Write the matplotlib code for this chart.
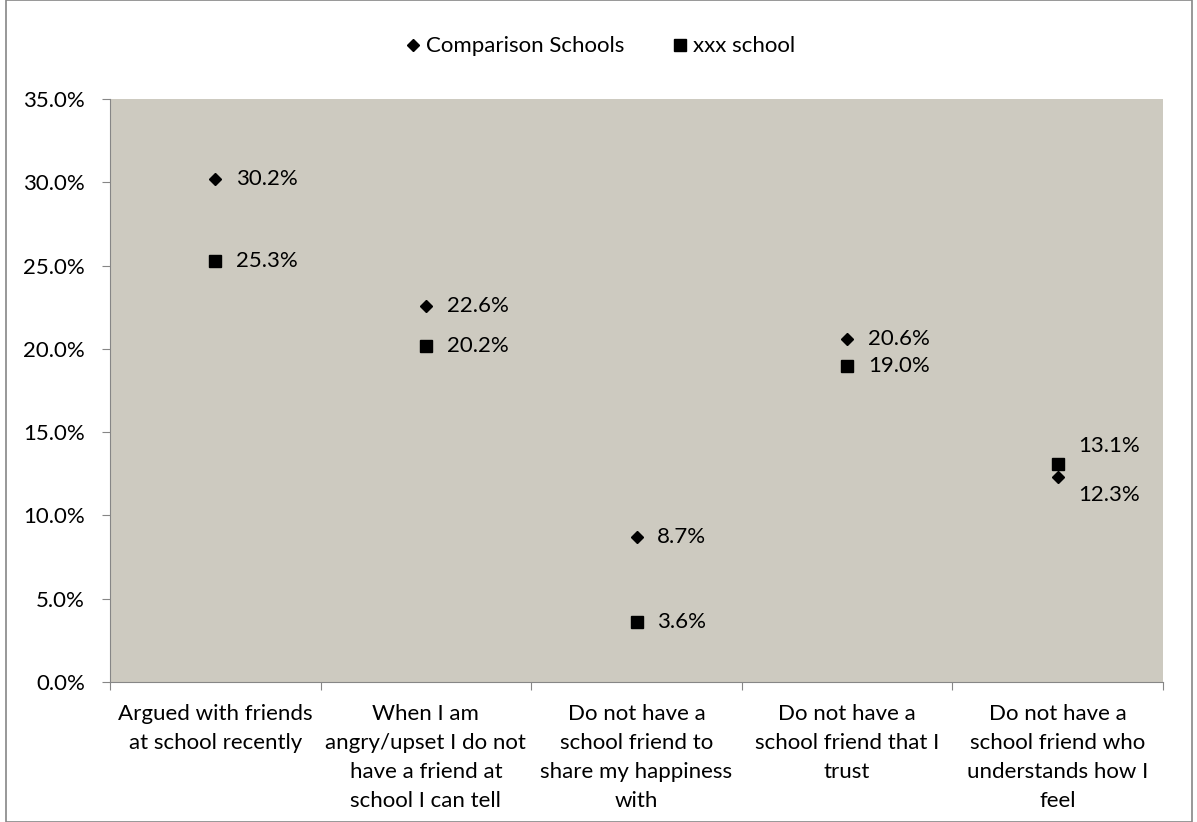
import matplotlib.pyplot as plt
from matplotlib.ticker import FuncFormatter, FixedLocator
from matplotlib.patches import Rectangle

plt.rcParams['font.family'] = ['Lato', 'DejaVu Sans']

categories = [
    "Argued with friends\nat school recently",
    "When I am\nangry/upset I do not\nhave a friend at\nschool I can tell",
    "Do not have a\nschool friend to\nshare my happiness\nwith",
    "Do not have a\nschool friend that I\ntrust",
    "Do not have a\nschool friend who\nunderstands how I\nfeel",
]
comparison = [30.2, 22.6, 8.7, 20.6, 12.3]
xxx_school = [25.3, 20.2, 3.6, 19.0, 13.1]

FS = 16

fig = plt.figure(figsize=(11.97, 8.22), dpi=100)
ax = fig.add_axes([110 / 1197, 1 - 682 / 822, 1053 / 1197, 583 / 822])
ax.set_facecolor('#CDCAC0')

x = list(range(len(categories)))
ax.plot(x, comparison, linestyle='none', marker='D', markersize=6, color='black',
        label='Comparison Schools')
ax.plot(x, xxx_school, linestyle='none', marker='s', markersize=9, color='black',
        label='xxx school')

# data labels
for i, (c, s) in enumerate(zip(comparison, xxx_school)):
    if i == len(categories) - 1:
        ax.annotate(f'{s:.1f}%', (i, s), xytext=(15, 13), textcoords='offset points',
                    va='center', fontsize=FS)
        ax.annotate(f'{c:.1f}%', (i, c), xytext=(15, -13), textcoords='offset points',
                    va='center', fontsize=FS)
    else:
        ax.annotate(f'{c:.1f}%', (i, c), xytext=(15, 0), textcoords='offset points',
                    va='center', fontsize=FS)
        ax.annotate(f'{s:.1f}%', (i, s), xytext=(15, 0), textcoords='offset points',
                    va='center', fontsize=FS)

ax.set_xlim(-0.5, len(categories) - 0.5)
ax.set_ylim(0, 35)
ax.set_yticks([0, 5, 10, 15, 20, 25, 30, 35])
ax.yaxis.set_major_formatter(FuncFormatter(lambda v, p: f'{v:.1f}%'))

# category boundaries as ticks, labels at centres
ax.xaxis.set_major_locator(FixedLocator([i - 0.5 for i in range(len(categories) + 1)]))
ax.set_xticklabels([])
ax.set_xticks(x, minor=True)
ax.set_xticklabels(categories, minor=True, fontsize=FS, linespacing=1.55)
ax.tick_params(axis='x', which='minor', length=0, pad=16)
ax.tick_params(axis='x', which='major', length=6, color='#868686')
ax.tick_params(axis='y', length=6, color='#868686', labelsize=FS, pad=12)

for side in ['top', 'right']:
    ax.spines[side].set_visible(False)
for side in ['left', 'bottom']:
    ax.spines[side].set_color('#868686')

fig.legend(loc='upper center', bbox_to_anchor=(0.5, 0.98), ncol=2, frameon=False,
           fontsize=FS, handletextpad=0.1, columnspacing=2.0, handlelength=1.0)

# chart border
fig.patches.append(Rectangle((6 / 1197, 0), 1186 / 1197, 1, transform=fig.transFigure,
                             fill=False, edgecolor='#868686', linewidth=1.2))

fig.savefig('out.png', dpi=100)
